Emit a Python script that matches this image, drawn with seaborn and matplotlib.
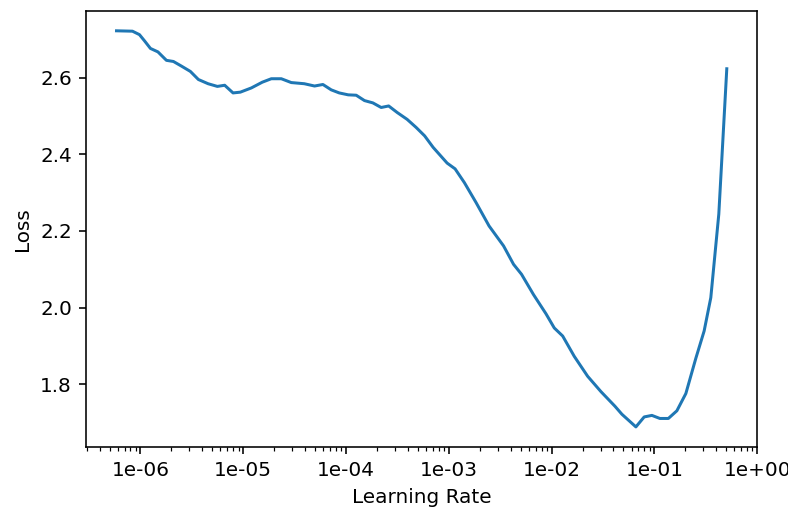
import matplotlib
matplotlib.use("Agg")
import matplotlib.pyplot as plt
from matplotlib.ticker import FormatStrFormatter, NullFormatter
import pandas as pd
import seaborn as sns

# Learning-rate finder results: learning rate vs. smoothed loss
lrs = [
    5.85e-7, 8.36e-7, 9.78e-7, 1.094e-6, 1.251e-6, 1.480e-6, 1.789e-6, 2.093e-6,
    2.503e-6, 3.062e-6, 3.662e-6, 4.55e-6, 5.60e-6, 6.60e-6, 7.96e-6, 9.37e-6,
    1.199e-5, 1.533e-5, 1.876e-5, 2.346e-5, 2.934e-5, 3.925e-5, 4.94e-5, 5.96e-5,
    7.18e-5, 8.59e-5, 1.050e-4, 1.256e-4, 1.513e-4, 1.825e-4, 2.198e-4, 2.600e-4,
    3.145e-4, 3.934e-4, 4.81e-4, 5.82e-4, 7.04e-4, 9.63e-4, 1.151e-3, 1.418e-3,
    1.842e-3, 2.465e-3, 3.410e-3, 4.264e-3, 5.10e-3, 6.67e-3, 8.82e-3, 1.062e-2,
    1.282e-2, 1.662e-2, 2.243e-2, 3.021e-2, 4.131e-2, 4.832e-2, 6.61e-2, 7.96e-2,
    9.46e-2, 1.131e-1, 1.368e-1, 1.655e-1, 2.024e-1, 2.532e-1, 3.048e-1, 3.540e-1,
    4.235e-1, 5.064e-1,
]
losses = [
    2.722, 2.721, 2.712, 2.696, 2.676, 2.667, 2.645, 2.642,
    2.630, 2.616, 2.595, 2.584, 2.577, 2.580, 2.560, 2.562,
    2.573, 2.588, 2.597, 2.597, 2.587, 2.584, 2.578, 2.582,
    2.568, 2.560, 2.555, 2.554, 2.540, 2.534, 2.522, 2.526,
    2.509, 2.491, 2.470, 2.448, 2.418, 2.377, 2.362, 2.326,
    2.274, 2.213, 2.161, 2.113, 2.087, 2.034, 1.984, 1.947,
    1.926, 1.873, 1.821, 1.781, 1.743, 1.722, 1.689, 1.715,
    1.719, 1.711, 1.711, 1.731, 1.776, 1.868, 1.939, 2.026,
    2.244, 2.623,
]
y_ticks = [1.8, 2.0, 2.2, 2.4, 2.6]

df = pd.DataFrame({"Learning Rate": lrs, "Loss": losses})

dpi = 144
fig = plt.figure(figsize=(788 / dpi, 509 / dpi), dpi=dpi)
ax = fig.add_axes([86 / 788, 1 - 446.7 / 509, (757.3 - 86) / 788, (446.7 - 11) / 509])

sns.lineplot(data=df, x="Learning Rate", y="Loss", ax=ax, color="#1f77b4",
             linewidth=1.5, sort=False, estimator=None)

ax.set_xscale("log")
ax.xaxis.set_major_formatter(FormatStrFormatter("%.0e"))
ax.xaxis.set_minor_formatter(NullFormatter())
ax.set_yticks(y_ticks)
ax.set_xlabel("Learning Rate", fontsize=10)
ax.set_ylabel("Loss", fontsize=10)
ax.tick_params(labelsize=10)

fig.savefig("out.png", dpi=dpi)
